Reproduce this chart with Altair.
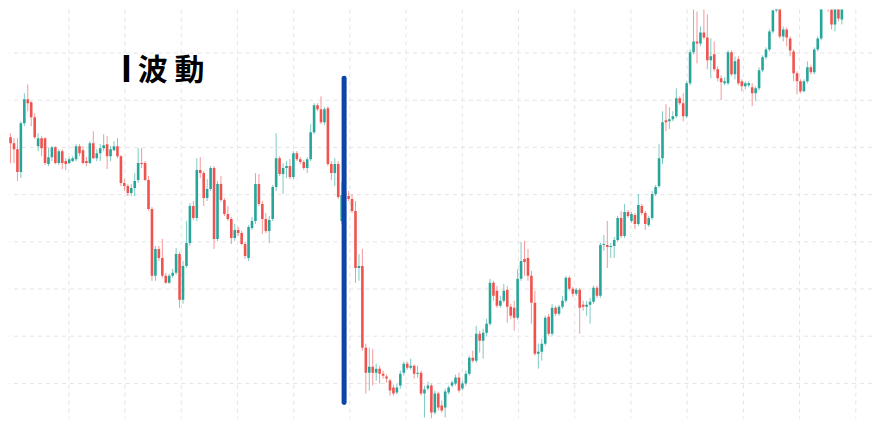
import altair as alt
import pandas as pd

# ---- candle data (price units, one candle per period) ----
OPEN = [279, 290, 284, 278, 255, 304, 328, 325, 310, 281, 289, 289, 263, 270, 280, 264, 276, 266, 264, 266,
        268, 281, 277, 266, 264, 284, 269, 274, 279, 283, 271, 277, 281, 271, 244, 241, 234, 239, 247, 264,
        264, 247, 218, 151, 178, 169, 151, 144, 151, 154, 173, 127, 161, 184, 221, 209, 257, 254, 229, 238,
        259, 188, 243, 227, 213, 208, 189, 197, 194, 183, 169, 199, 206, 243, 223, 208, 196, 208, 240, 269,
        253, 259, 261, 250, 274, 268, 265, 259, 268, 295, 322, 318, 305, 319, 263, 254, 263, 206, 232, 231,
        228, 216, 159, 161, 79, 54, 60, 54, 58, 53, 50, 46, 39, 34, 41, 54, 63, 59, 61, 53,
        54, 33, 38, 41, 14, 33, 21, 19, 34, 41, 43, 49, 38, 43, 53, 69, 66, 93, 86, 94,
        103, 144, 136, 121, 126, 137, 120, 119, 109, 148, 168, 169, 151, 124, 73, 75, 83, 110, 93, 119,
        113, 120, 126, 149, 138, 133, 137, 122, 120, 122, 125, 139, 131, 182, 182, 180, 181, 187, 209, 191,
        215, 206, 212, 203, 221, 214, 202, 209, 233, 241, 269, 307, 306, 308, 311, 329, 324, 311, 344, 375,
        386, 384, 395, 390, 367, 373, 358, 349, 344, 344, 375, 353, 368, 346, 341, 342, 340, 334, 339, 357,
        370, 378, 396, 417, 429, 391, 398, 389, 376, 354, 346, 336, 346, 360, 355, 378, 389, 420, 426, 418,
        403, 426, 408, 421]
CLOSE = [290, 284, 278, 255, 304, 328, 324, 310, 290, 289, 279, 264, 270, 280, 264, 276, 264, 263, 268, 269,
         281, 274, 264, 264, 284, 269, 274, 279, 282, 271, 278, 281, 271, 244, 241, 234, 239, 246, 264, 263,
         247, 218, 151, 178, 169, 151, 144, 151, 154, 173, 127, 161, 184, 221, 209, 257, 254, 229, 238, 259,
         188, 243, 227, 213, 208, 189, 197, 194, 183, 171, 200, 206, 243, 223, 208, 196, 207, 240, 269, 253,
         259, 261, 250, 274, 268, 265, 259, 268, 295, 322, 318, 305, 318, 263, 254, 263, 230, 232, 234, 228,
         216, 159, 161, 79, 54, 60, 54, 58, 53, 51, 48, 36, 33, 39, 53, 63, 59, 61, 53, 54,
         33, 37, 41, 14, 33, 19, 16, 35, 39, 44, 49, 36, 43, 53, 69, 66, 93, 86, 94, 103,
         144, 131, 121, 126, 136, 120, 111, 109, 148, 166, 165, 151, 124, 73, 75, 83, 109, 93, 119, 113,
         120, 126, 149, 138, 133, 137, 119, 120, 122, 125, 139, 131, 182, 183, 180, 181, 187, 209, 191, 215,
         211, 213, 203, 222, 214, 203, 209, 233, 240, 269, 305, 305, 308, 311, 329, 324, 311, 344, 375, 386,
         384, 395, 390, 367, 371, 358, 349, 345, 346, 375, 353, 366, 344, 341, 344, 344, 334, 339, 357, 370,
         378, 396, 417, 429, 391, 398, 390, 377, 354, 346, 336, 346, 360, 355, 378, 389, 420, 428, 418, 403,
         426, 409, 421, 427]
HIGH = [304, 294, 289, 289, 306, 334, 343, 326, 314, 294, 291, 290, 279, 281, 281, 278, 278, 269, 270, 271,
        283, 283, 281, 270, 286, 296, 278, 283, 293, 291, 281, 286, 289, 272, 248, 243, 243, 254, 279, 279,
        266, 251, 220, 181, 181, 188, 154, 153, 158, 179, 175, 166, 206, 224, 226, 269, 270, 256, 248, 261,
        261, 246, 251, 229, 221, 210, 203, 200, 196, 185, 202, 210, 254, 253, 226, 214, 211, 242, 294, 271,
        264, 266, 268, 276, 276, 270, 267, 270, 303, 324, 324, 331, 320, 321, 266, 269, 266, 245, 252, 236,
        233, 226, 173, 178, 83, 79, 78, 63, 61, 56, 52, 48, 42, 43, 56, 65, 65, 68, 62, 61,
        56, 41, 45, 43, 36, 35, 26, 38, 41, 46, 52, 54, 46, 56, 71, 76, 101, 96, 98, 108,
        148, 146, 141, 131, 143, 141, 123, 126, 158, 185, 186, 178, 156, 136, 83, 88, 111, 113, 123, 121,
        122, 131, 151, 151, 140, 139, 139, 126, 126, 129, 141, 141, 184, 192, 206, 184, 190, 211, 216, 223,
        217, 215, 214, 233, 223, 216, 211, 236, 242, 283, 316, 323, 320, 316, 339, 331, 334, 346, 378, 421,
        416, 401, 423, 413, 389, 386, 361, 352, 350, 377, 377, 371, 371, 348, 346, 346, 344, 341, 360, 372,
        380, 398, 428, 436, 434, 401, 400, 391, 378, 356, 348, 348, 366, 362, 380, 391, 423, 434, 431, 420,
        431, 429, 424, 431]
LOW = [276, 264, 264, 246, 249, 301, 316, 301, 288, 276, 271, 262, 261, 266, 263, 262, 258, 257, 263, 265,
       266, 271, 263, 261, 263, 268, 266, 266, 276, 258, 266, 276, 269, 241, 236, 231, 231, 231, 244, 259,
       246, 216, 146, 146, 166, 149, 143, 143, 149, 152, 119, 123, 159, 181, 207, 206, 249, 221, 226, 236,
       178, 186, 225, 211, 206, 183, 186, 191, 182, 168, 166, 197, 203, 221, 193, 194, 184, 206, 236, 251,
       233, 249, 248, 248, 266, 263, 257, 254, 266, 293, 316, 303, 302, 261, 247, 241, 228, 203, 228, 226,
       214, 144, 146, 76, 33, 36, 41, 46, 43, 48, 44, 31, 31, 32, 38, 51, 57, 57, 48, 49,
       31, 9, 36, 8, 12, 16, 14, 9, 32, 39, 41, 34, 36, 41, 51, 64, 64, 74, 68, 91,
       101, 126, 119, 119, 124, 104, 108, 96, 107, 146, 151, 146, 103, 71, 58, 66, 81, 91, 91, 111,
       111, 118, 124, 136, 130, 131, 93, 116, 111, 103, 123, 129, 129, 176, 159, 169, 169, 185, 189, 189,
       209, 204, 198, 201, 212, 197, 200, 207, 231, 239, 263, 296, 298, 306, 309, 322, 306, 309, 342, 373,
       364, 381, 388, 358, 349, 356, 346, 327, 342, 342, 351, 348, 342, 336, 338, 340, 321, 326, 337, 355,
       368, 376, 394, 415, 389, 386, 381, 371, 346, 333, 334, 335, 344, 353, 353, 376, 387, 418, 416, 398,
       396, 406, 403, 419]

# vertical grid (period index) and horizontal grid (price levels)
GRID_T = [17.90, 34.19, 50.49, 66.78, 83.08, 99.37, 115.67, 131.96, 148.26, 164.55,
          180.85, 197.14, 213.44, 229.73, 246.03]
GRID_P = [374.3, 327.0, 279.7, 232.4, 185.1, 137.8, 90.5, 43.2]

# wave start marker and annotation ("I" + "波 動")
WAVE_T = [97.7]
WAVE_TOP = [349]
WAVE_BOTTOM = [24]
NUMERAL_TEXT = ["I"]
NUMERAL_T = [34.6]
WORD_TEXT = ["波 動"]
WORD_T = [37.9]
LABEL_P = [356.5]

GREEN = "#26a69a"
RED = "#ef5350"
BLUE = "#0c44a8"

n = len(OPEN)
df = pd.DataFrame({"t": list(range(n)), "open": OPEN, "close": CLOSE, "high": HIGH, "low": LOW})
df["dir"] = ["up" if c > o else "down" for o, c in zip(OPEN, CLOSE)]

W, H = 865, 410
STEP = 3.498
X0 = 1.0
xs = alt.Scale(domain=[(8 - X0) / STEP, (8 + W - X0) / STEP], nice=False, zero=False)
ys = alt.Scale(domain=[8, 418], nice=False, zero=False)
color = alt.Color("dir:N", scale=alt.Scale(domain=["up", "down"], range=[GREEN, RED]), legend=None)

grid_x = alt.Chart(pd.DataFrame({"t": GRID_T})).mark_rule(
    color="#e4e4e4", strokeDash=[4, 4], strokeWidth=1
).encode(x=alt.X("t:Q", scale=xs, axis=None))

grid_y = alt.Chart(pd.DataFrame({"p": GRID_P})).mark_rule(
    color="#e4e4e4", strokeDash=[4, 4], strokeWidth=1
).encode(y=alt.Y("p:Q", scale=ys, axis=None))

base = alt.Chart(df)
wicks = base.mark_rule(strokeWidth=1, opacity=0.6, clip=True).encode(
    x=alt.X("t:Q", scale=xs, axis=None),
    y=alt.Y("low:Q", scale=ys, axis=None),
    y2="high:Q",
    color=color,
)
bodies = base.mark_bar(size=2.6, clip=True).encode(
    x=alt.X("t:Q", scale=xs, axis=None),
    y=alt.Y("open:Q", scale=ys, axis=None),
    y2="close:Q",
    color=color,
)

wave = alt.Chart(pd.DataFrame({"t": WAVE_T, "top": WAVE_TOP, "bottom": WAVE_BOTTOM})).mark_rule(
    color=BLUE, strokeWidth=5, strokeCap="round"
).encode(
    x=alt.X("t:Q", scale=xs, axis=None),
    y=alt.Y("top:Q", scale=ys, axis=None),
    y2="bottom:Q",
)

numeral = alt.Chart(pd.DataFrame({"t": NUMERAL_T, "p": LABEL_P, "txt": NUMERAL_TEXT})).mark_text(
    align="center", baseline="middle", fontSize=36, fontWeight="bold",
    font="Noto Sans CJK JP", color="#000000"
).encode(
    x=alt.X("t:Q", scale=xs, axis=None),
    y=alt.Y("p:Q", scale=ys, axis=None),
    text="txt:N",
)

word = alt.Chart(pd.DataFrame({"t": WORD_T, "p": LABEL_P, "txt": WORD_TEXT})).mark_text(
    align="left", baseline="middle", fontSize=30, fontWeight="bold",
    font="Noto Sans CJK JP", color="#000000"
).encode(
    x=alt.X("t:Q", scale=xs, axis=None),
    y=alt.Y("p:Q", scale=ys, axis=None),
    text="txt:N",
)

chart = alt.layer(grid_x, grid_y, wicks, bodies, wave, numeral, word).properties(
    width=W, height=H, padding=0
).configure_view(strokeWidth=0)

chart.save("out.html", embed_options={"renderer": "svg", "actions": False})
